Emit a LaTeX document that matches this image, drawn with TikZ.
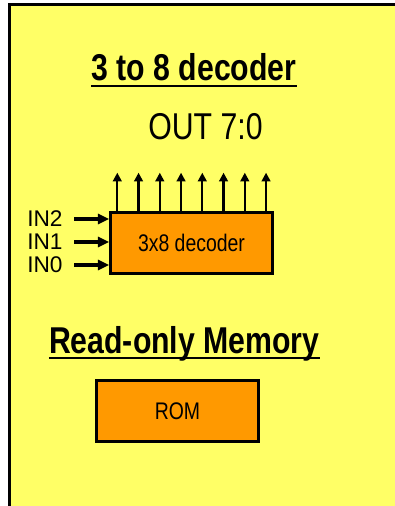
\documentclass[tikz,border=0pt]{standalone}
\usepackage{fontspec}
\setmainfont{Liberation Sans}[FakeStretch=0.81]
\newfontfamily\pinfont{Liberation Sans}
\usetikzlibrary{arrows.meta}
\definecolor{rom-yellow}{RGB}{255,255,102}
\definecolor{rom-orange}{RGB}{255,153,0}

\begin{document}
\begin{tikzpicture}[
  x=0.75pt, y=-0.75pt,
  heading/.style={anchor=base,inner sep=0pt,font=\fontsize{28}{32}\selectfont\bfseries},
  caption/.style={anchor=base,inner sep=0pt,font=\fontsize{28}{32}\selectfont},
  block/.style={rectangle,draw,line width=2pt,fill=rom-orange,inner sep=0pt,
                minimum width=121.5pt,minimum height=45.75pt,font=\fontsize{18}{22}\selectfont},
  pin/.style={anchor=west,inner sep=0pt,font=\pinfont\fontsize{17}{18}\selectfont},
  inarrow/.style={-{Triangle[length=8.5pt,width=7.5pt]},line width=2.5pt},
  outarrow/.style={-{Triangle[length=6.5pt,width=6.5pt]},line width=1.6pt},
  uline/.style={line width=1.5pt}
]
  \useasboundingbox (0,0) rectangle (395,506);
  \fill[rom-yellow] (9.5,4.5) rectangle (395,506);
  \draw[line width=2.25pt] (9.5,506) -- (9.5,4.5) -- (395,4.5);

  % decoder part
  \node[heading] (title)  at (194,81)    {3 to 8 decoder};
  \draw[uline] ([yshift=-3.75pt]title.base west) -- ([yshift=-3.75pt]title.base east);
  \node[caption] (outlbl) at (205.5,140) {OUT 7:0};
  \node[block]   (dec)    at (191.5,243) {3x8 decoder};

  \foreach \i in {0,...,7}{
    \coordinate (o\i) at (117.3+21.25*\i,172.7);
    \draw[outarrow] (o\i |- dec.north) -- (o\i);
  }

  \foreach \n/\y in {2/219,1/242,0/265}{
    \node[pin] (in\n) at (27,\y) {IN\n};
    \coordinate (s\n) at (74,\y);
    \draw[inarrow] (s\n) -- (s\n -| dec.west);
  }

  % memory part
  \node[heading] (memtitle) at (184.3,353) {Read-only Memory};
  \draw[uline] ([yshift=-3.75pt]memtitle.base west) -- ([yshift=-3.75pt]memtitle.base east);
  \node[block]   (rom)      at (177.5,411) {ROM};
\end{tikzpicture}
\end{document}
